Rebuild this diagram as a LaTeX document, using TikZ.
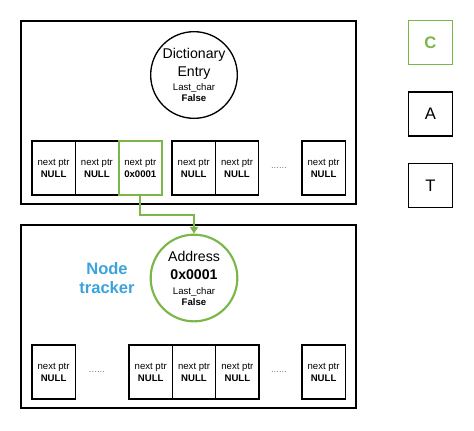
\documentclass[tikz,border=0pt]{standalone}
\usepackage{fontspec}
\setmainfont{Liberation Sans}
\usetikzlibrary{positioning, arrows.meta}
\definecolor{lgreen}{RGB}{122,182,72}
\definecolor{lblue}{RGB}{58,163,220}
\newcommand{\bigtxt}{\fontsize{10.6}{13}\selectfont}

\begin{document}
\begin{tikzpicture}[x=0.75pt, y=-0.75pt, node distance=0pt,
		panel/.style={draw, line width=1pt, minimum width=251.25pt, minimum height=137.25pt, outer sep=0pt},
		cell/.style={draw, line width=1pt, minimum width=32.5pt, minimum height=40.5pt, inner sep=0pt, outer sep=0pt, align=center, font=\fontsize{7.2}{9}\selectfont},
		entry/.style={draw, circle, line width=1pt, minimum size=65pt, inner sep=0pt, align=center, font=\fontsize{7.2}{8.25}\selectfont},
		letter/.style={draw, line width=1.1pt, minimum size=33pt, inner sep=0pt, font=\fontsize{12.5}{15}\selectfont},
		gap/.style={text=gray, inner sep=0pt, font=\fontsize{7.2}{9}\selectfont},
		hot/.style={draw=lgreen, line width=1.6pt}]
	\useasboundingbox (0,0) rectangle (474,430);
	\node[panel] (top) at (188.5,112.5) {};
	\node[panel] (bot) at (188.5,316.5) {};
	\node[entry] (dict) at (194,75) {\bigtxt Dictionary\\[2.7pt] \bigtxt Entry\\[2.75pt] Last\_char\\ \textbf{False}};
	\node[cell] (c1) at (53.6,168) {next ptr\\ \textbf{NULL}};
	\node[cell, right=of c1] (c2) {next ptr\\ \textbf{NULL}};
	\node[cell, hot, right=of c2] (c3) {next ptr\\ \textbf{0x0001}};
	\node[cell] (c4) at (193.7,168) {next ptr\\ \textbf{NULL}};
	\node[cell, right=of c4] (c5) {next ptr\\ \textbf{NULL}};
	\node[gap] (d1) at (279,168) {......};
	\node[cell] (c6) at (323.6,168) {next ptr\\ \textbf{NULL}};
	\node[entry, hot] (addr) at (194,278) {\bigtxt Address\\[5.2pt] \bigtxt\bfseries 0x0001\\[3pt] Last\_char\\ \textbf{False}};
	\node[text=lblue, align=center, font=\fontsize{12.4}{14.25}\selectfont\bfseries] (trk) at (107,278.5) {Node\\ tracker};
	\node[cell] (b1) at (53.6,372) {next ptr\\ \textbf{NULL}};
	\node[gap] (d2) at (97,372) {......};
	\node[cell] (b2) at (150.7,372) {next ptr\\ \textbf{NULL}};
	\node[cell, right=of b2] (b3) {next ptr\\ \textbf{NULL}};
	\node[cell, right=of b3] (b4) {next ptr\\ \textbf{NULL}};
	\node[gap] (d3) at (279,372) {......};
	\node[cell] (b5) at (323.6,372) {next ptr\\ \textbf{NULL}};
	\node[letter, draw=lgreen, text=lgreen, font=\fontsize{12.5}{15}\selectfont\bfseries] (kc) at (430.5,42.5) {C};
	\node[letter, below=19.5pt of kc] (ka) {A};
	\node[letter, below=19.5pt of ka] (kt) {T};
	\draw[lgreen, line width=1.5pt, -{Triangle[length=5pt, width=6pt]}] (c3.south) -- ++(0,20) -| (addr.north);
\end{tikzpicture}
\end{document}
